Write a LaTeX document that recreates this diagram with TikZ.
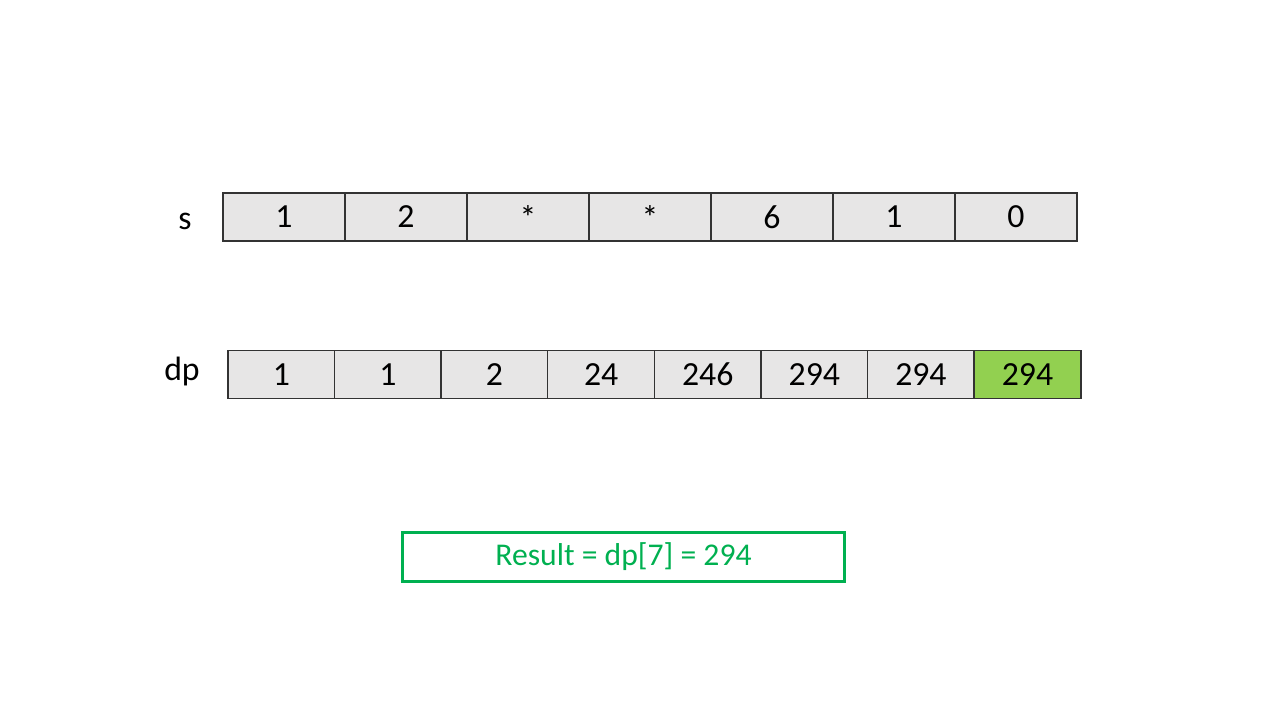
\documentclass[tikz,border=0pt]{standalone}
\usepackage{fontspec}
\setmainfont{Carlito}
\usetikzlibrary{positioning}

\definecolor{cellgray}{HTML}{E7E6E6}
\definecolor{hlgreen}{HTML}{92D050}
\definecolor{resgreen}{HTML}{00B050}

\tikzset{
    cell/.style={draw=black!80, fill=cellgray, line width=0.4pt, inner sep=0pt,
        minimum height=0.48cm, font=\fontsize{9.6}{11}\selectfont},
    scell/.style={cell, minimum width=1.22cm},
    dpcell/.style={cell, minimum width=1.066cm},
    rowlabel/.style={font=\fontsize{9.6}{11}\selectfont},
    resultbox/.style={draw=resgreen, line width=0.85pt, inner sep=0pt, minimum width=4.41cm,
        minimum height=0.49cm, text=resgreen, font=\fontsize{9}{10}\selectfont}
}

\begin{document}
\begin{tikzpicture}[x=0.01cm, y=-0.01cm]
    \useasboundingbox (0,0) rectangle (1280,720);
    % Row labels
    \node[rowlabel] (slabel) at (185,221) {s};
    \node[rowlabel] (dplabel) at (182,371) {dp};
    % Array s
    \foreach \v [count=\i] in {1,2,*,*,6,1,0}
        \node[scell] (s\i) at ({223+61+122*(\i-1)},217) {\v};
    % Array dp
    \foreach \v [count=\i] in {1,1,2,24,246,294,294}
        \node[dpcell] (dp\i) at ({228+53.3+106.6*(\i-1)},374.5) {\v};
    \node[dpcell, fill=hlgreen] (dp8) at ({228+53.3+106.6*7},374.5) {294};
    % Result
    \node[resultbox] (result) at (623.5,556.5) {\raisebox{-1.5pt}{Result = dp[7] = 294}};
\end{tikzpicture}
\end{document}
